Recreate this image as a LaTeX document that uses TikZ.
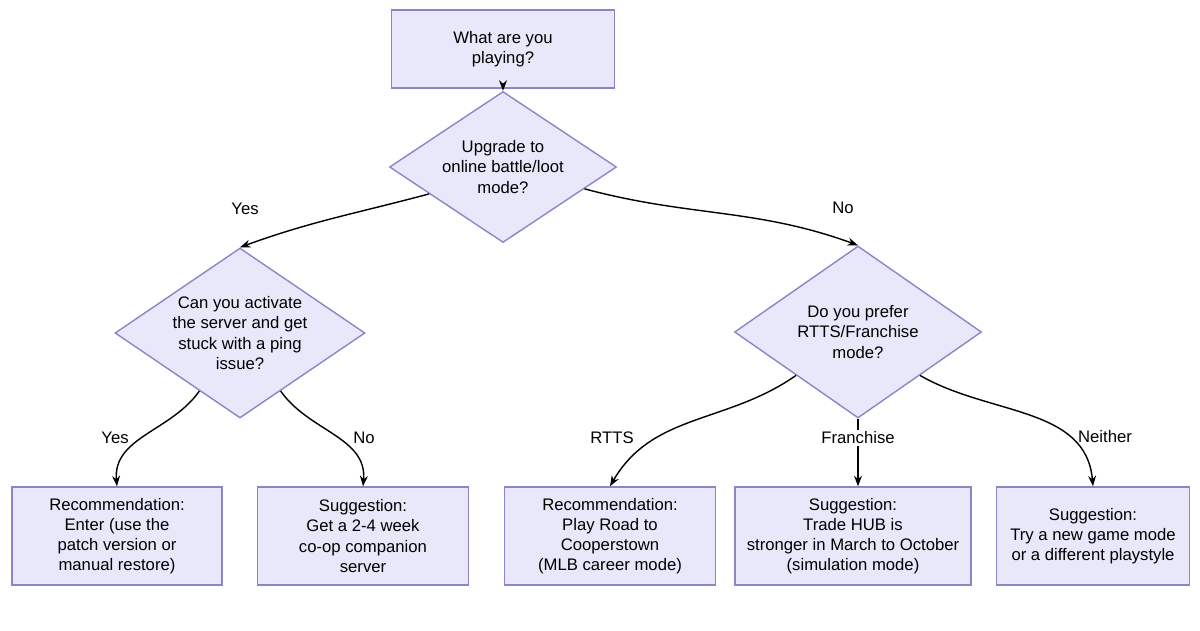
\documentclass[tikz,border=0pt]{standalone}
\usepackage{fontspec}
\setmainfont{Liberation Sans}
\usetikzlibrary{shapes.geometric, arrows.meta, positioning}
\definecolor{BoxFill}{HTML}{E8E8FA}
\definecolor{BoxLine}{HTML}{8A86C8}
\tikzset{
  qbox/.style={rectangle, draw=BoxLine, fill=BoxFill, thick, align=center, font=\fontsize{9.5}{11.5}\selectfont},
  qdiamond/.style={diamond, draw=BoxLine, fill=BoxFill, thick, inner sep=0pt},
  qtext/.style={align=center, font=\fontsize{9.5}{11.5}\selectfont},
  flow/.style={-{Stealth[length=6pt]}, thick, black},
  elabel/.style={font=\fontsize{9.5}{11.5}\selectfont, inner sep=1pt}
}
\begin{document}
\begin{tikzpicture}
  \useasboundingbox (0,0) rectangle (24,12.6);

  % Start and first question
  \node[qbox, minimum width=4.46cm, minimum height=1.56cm] (start) at (10.06,11.62) {What are you\\playing?};
  \node[qdiamond, minimum width=4.54cm, minimum height=3.02cm] (online) at (10.06,9.26) {};
  \node[qtext] (onlinetext) at (online) {Upgrade to\\online battle/loot\\mode?};

  % Second level questions
  \node[qdiamond, minimum width=5cm, minimum height=3.4cm] (server) at (4.8,5.94) {};
  \node[qtext] (servertext) at (server) {Can you activate\\the server and get\\stuck with a ping\\issue?};
  \node[qdiamond, minimum width=4.94cm, minimum height=3.44cm] (prefer) at (17.16,5.96) {};
  \node[qtext] (prefertext) at (prefer) {Do you prefer\\RTTS/Franchise\\mode?};

  % Outcomes
  \node[qbox, minimum width=4.2cm, minimum height=1.96cm] (enter) at (2.34,1.88) {Recommendation:\\Enter (use the\\patch version or\\manual restore)};
  \node[qbox, minimum width=4.22cm, minimum height=1.96cm] (coop) at (7.26,1.88) {Suggestion:\\Get a 2-4 week\\co-op companion\\server};
  \node[qbox, minimum width=4.22cm, minimum height=1.96cm] (road) at (12.2,1.88) {Recommendation:\\Play Road to\\Cooperstown\\(MLB career mode)};
  \node[qbox, minimum width=4.72cm, minimum height=1.96cm] (trade) at (17.06,1.88) {Suggestion:\\Trade HUB is\\stronger in March to October\\(simulation mode)};
  \node[qbox, minimum width=3.86cm, minimum height=1.96cm] (newmode) at (21.86,1.88) {Suggestion:\\Try a new game mode\\or a different playstyle};

  % Connectors
  \draw[flow] (start) -- (online);
  \draw[flow] (online.200) to[out=195, in=20] (server.north);
  \draw[flow] (online.-15) to[out=-15, in=160] (prefer.north);
  \draw[flow] (server.235) to[out=235, in=95] (enter.north);
  \draw[flow] (server.-55) to[out=-55, in=85] (coop.north);
  \draw[flow] (prefer.215) to[out=215, in=60] (road.north);
  \draw[flow] (prefer.south) -- (prefer.south |- trade.north);
  \draw[flow] (prefer.-35) to[out=-30, in=95] (newmode.north);

  % Edge labels
  \node[elabel] (lyes1) at (4.9,8.42) {Yes};
  \node[elabel] (lno1) at (16.86,8.44) {No};
  \node[elabel] (lyes2) at (2.3,3.84) {Yes};
  \node[elabel] (lno2) at (7.28,3.84) {No};
  \node[elabel] (lrtts) at (12.24,3.84) {RTTS};
  \node[elabel, fill=white] (lfran) at (17.16,3.84) {Franchise};
  \node[elabel] (lneither) at (22.1,3.86) {Neither};
\end{tikzpicture}
\end{document}
